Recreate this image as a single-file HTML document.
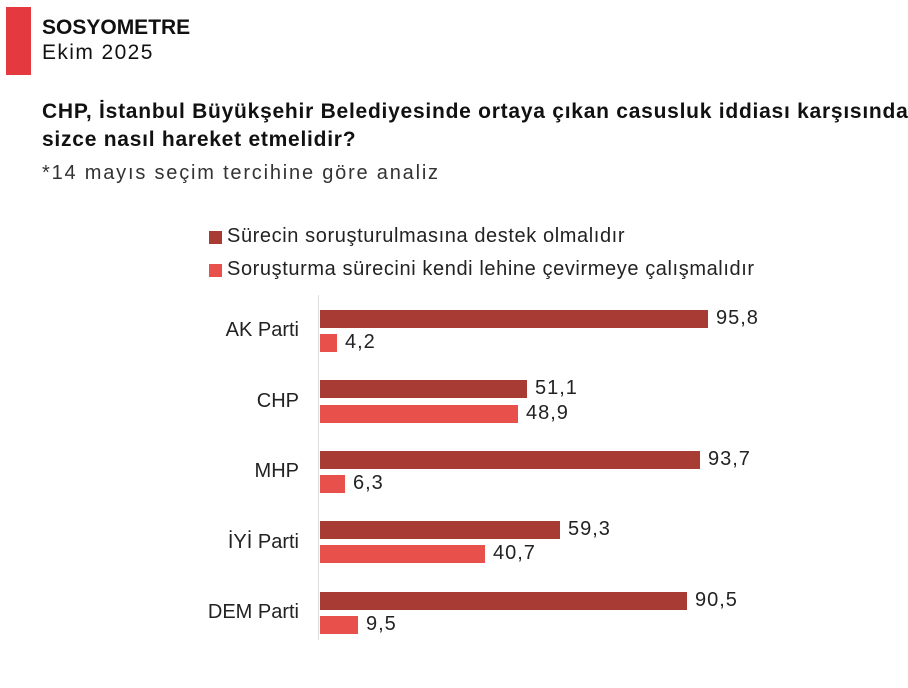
<!DOCTYPE html>
<html><head><meta charset="utf-8"><style>
body{margin:0;width:908px;height:688px;background:#fff;font-family:"Liberation Sans",sans-serif;position:relative;overflow:hidden;color:#111}
.a{position:absolute;white-space:nowrap}
.d{position:absolute;background:#a83b34;height:18px;left:320px}
.l{position:absolute;background:#e8514b;height:18px;left:320px}
.v{position:absolute;font-size:20px;letter-spacing:1px;color:#222}
.c{position:absolute;font-size:20px;color:#222;right:609px}
</style></head><body>
<div class="a" style="left:6px;top:7px;width:25px;height:68px;background:#e4393e"></div>
<div class="a" style="left:42px;top:16px;font-size:21px;font-weight:bold">SOSYOMETRE</div>
<div class="a" style="left:42px;top:41px;font-size:21px;letter-spacing:1.4px">Ekim 2025</div>
<div class="a" style="left:42px;top:98px;font-size:21px;font-weight:bold;line-height:28px;letter-spacing:0.75px">CHP, İstanbul Büyükşehir Belediyesinde ortaya çıkan casusluk iddiası karşısında<br>sizce nasıl hareket etmelidir?</div>
<div class="a" style="left:42px;top:162px;font-size:20px;color:#333;letter-spacing:1.8px">*14 mayıs seçim tercihine göre analiz</div>
<div class="a" style="left:209px;top:231px;width:13px;height:13px;background:#a83b34"></div>
<div class="a" style="left:227px;top:225px;font-size:20px;color:#222;letter-spacing:0.6px">Sürecin soruşturulmasına destek olmalıdır</div>
<div class="a" style="left:209px;top:264px;width:13px;height:13px;background:#e8514b"></div>
<div class="a" style="left:227px;top:258px;font-size:20px;color:#222;letter-spacing:0.6px">Soruşturma sürecini kendi lehine çevirmeye çalışmalıdır</div>
<div class="a" style="left:318px;top:295px;width:1px;height:345px;background:#ddd"></div>

<div class="d" style="top:310px;width:388px"></div><div class="v" style="left:716px;top:307px">95,8</div>
<div class="l" style="top:334px;width:17px"></div><div class="v" style="left:345px;top:331px">4,2</div>
<div class="c" style="top:319px">AK Parti</div>

<div class="d" style="top:380px;width:207px"></div><div class="v" style="left:535px;top:377px">51,1</div>
<div class="l" style="top:405px;width:198px"></div><div class="v" style="left:526px;top:402px">48,9</div>
<div class="c" style="top:390px">CHP</div>

<div class="d" style="top:451px;width:380px"></div><div class="v" style="left:708px;top:448px">93,7</div>
<div class="l" style="top:475px;width:25px"></div><div class="v" style="left:353px;top:472px">6,3</div>
<div class="c" style="top:460px">MHP</div>

<div class="d" style="top:521px;width:240px"></div><div class="v" style="left:568px;top:518px">59,3</div>
<div class="l" style="top:545px;width:165px"></div><div class="v" style="left:493px;top:542px">40,7</div>
<div class="c" style="top:531px">İYİ Parti</div>

<div class="d" style="top:592px;width:367px"></div><div class="v" style="left:695px;top:589px">90,5</div>
<div class="l" style="top:616px;width:38px"></div><div class="v" style="left:366px;top:613px">9,5</div>
<div class="c" style="top:601px">DEM Parti</div>
</body></html>
